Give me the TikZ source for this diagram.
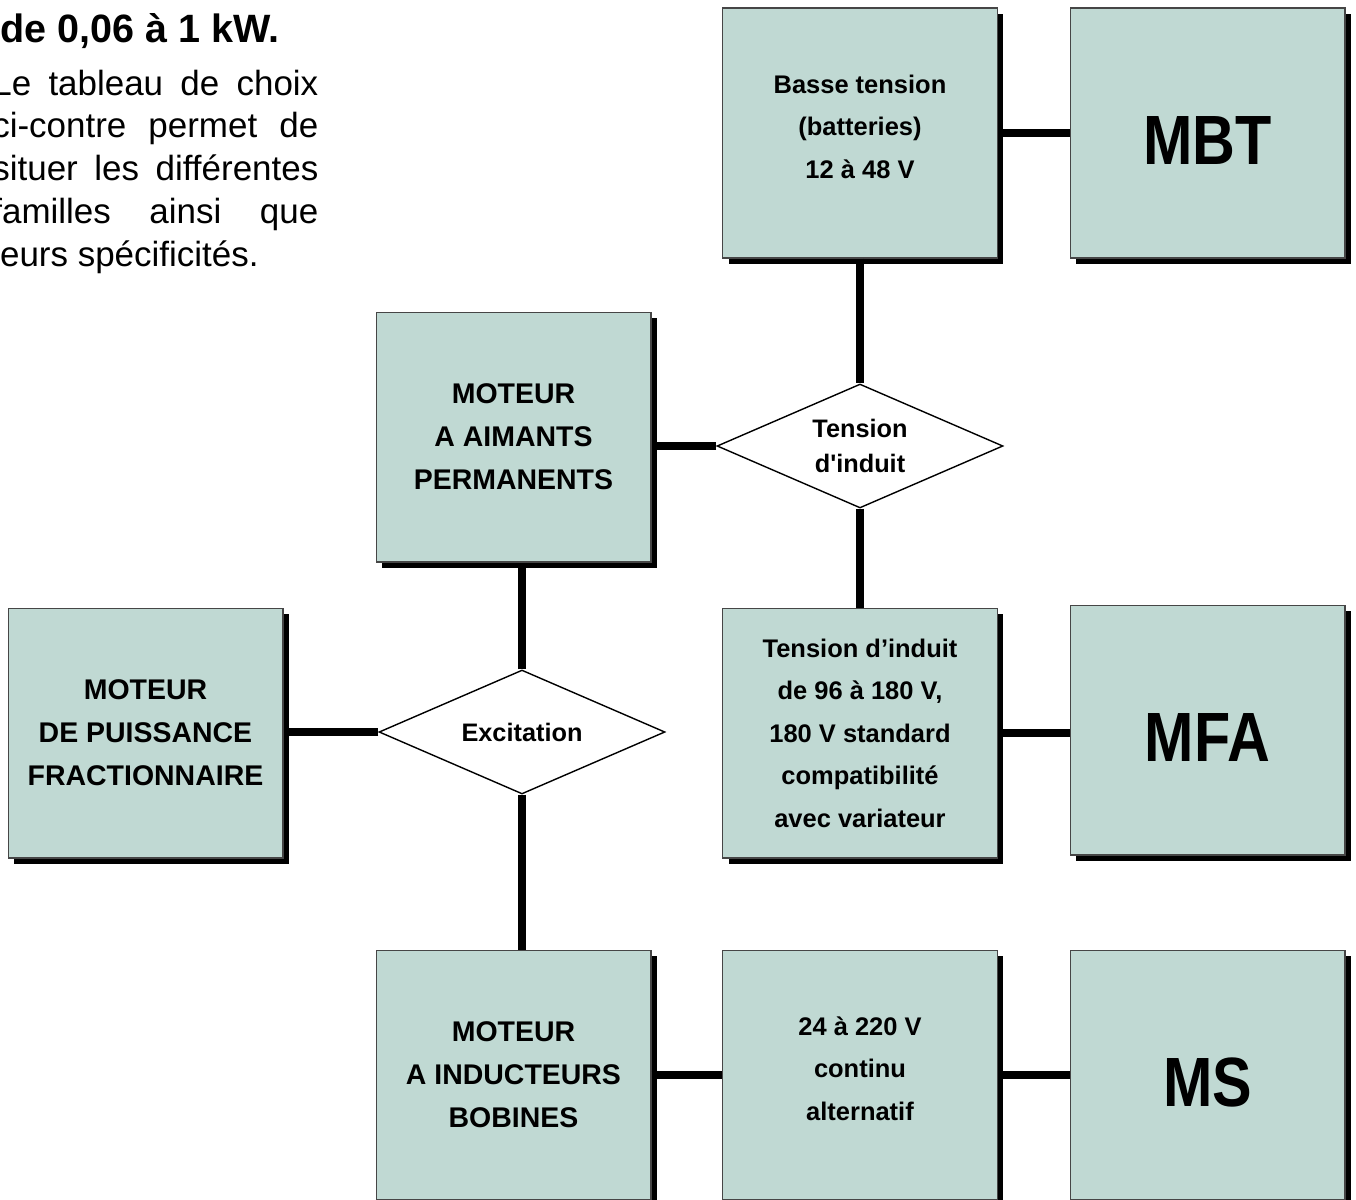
\documentclass[tikz,border=0pt]{standalone}
\usepackage{fontspec}
\setmainfont{Liberation Sans}[Ligatures=TeXOff]
\newfontfamily\narrowfont{Liberation Sans}[FakeStretch=0.85, Ligatures=TeXOff]
\usetikzlibrary{shapes.geometric, shadows}
\definecolor{boxfill}{RGB}{192,217,211}
\definecolor{boxline}{RGB}{70,70,70}

\begin{document}
\begin{tikzpicture}[x=0.02cm, y=-0.02cm,
    box/.style={rectangle, draw=boxline, line width=0.6pt, fill=boxfill,
        minimum width=5.5cm, minimum height=5cm, inner sep=0pt, align=center,
        drop shadow={shadow xshift=0.12cm, shadow yshift=-0.12cm, fill=black, opacity=1}},
    centred/.style={},
    raised/.style={text width=5cm, align=flush center, text height=12pt, text depth=57.4pt},
    test/.style={diamond, draw, fill=white, line width=0.8pt, aspect=2.3,
        minimum width=5.72cm, minimum height=2.48cm, inner sep=0pt, align=center,
        font=\bfseries\fontsize{14.4}{20.4}\selectfont},
    link/.style={line width=4pt}]
    \useasboundingbox (0,0) rectangle (1356,1200);

    % text beside the table
    \node[anchor=base west, inner sep=0pt, font=\bfseries\fontsize{22.5}{27}\selectfont]
        (title) at (0,42) {de 0,06 à 1 kW.};
    \node[anchor=base west, inner sep=0pt, text width=6.52cm, align=justify,
        font=\fontsize{19.9}{24.4}\selectfont] (intro) at (-8,95)
        {Le tableau de choix\linebreak ci-contre permet de\linebreak
         situer les différentes\linebreak familles ainsi que\linebreak
         leurs spécificités.};

    % motor families
    \foreach \n/\x/\y/\t in {
        pm/513.5/437/{MOTEUR\\A AIMANTS\\PERMANENTS},
        fr/145.5/733/{MOTEUR\\DE PUISSANCE\\FRACTIONNAIRE},
        ib/513.5/1075/{MOTEUR\\A INDUCTEURS\\BOBINES}}
        \node[box, font=\bfseries\fontsize{16.2}{24.4}\selectfont] (\n) at (\x,\y) {\t};

    % supply voltages
    \foreach \n/\x/\y/\s/\t in {
        bt/860/133/raised/{Basse tension\\(batteries)\\12 à 48 V},
        ti/860/733/centred/{Tension d’induit\\de 96 à 180 V,\\180 V standard\\compatibilité\\avec variateur},
        ac/860/1075/raised/{24 à 220 V\\continu\\alternatif}}
        \node[box, \s, font=\bfseries\fontsize{14.5}{24.2}\selectfont] (\n) at (\x,\y) {\t};

    % motor types
    \foreach \n/\x/\y/\t in {
        mbt/1207.5/133/MBT, mfa/1207.5/730/MFA, ms/1207.5/1075/MS}
        \node[box, text height=36pt, text depth=0pt,
            font=\narrowfont\bfseries\fontsize{39.7}{44}\selectfont] (\n) at (\x,\y) {\t};

    % choices
    \node[test] (tid) at (860,446) {Tension\\d'induit};
    \node[test] (exc) at (522,732) {Excitation};

    \draw[link] (bt) -- (mbt);
    \draw[link] (bt) -- (tid);
    \draw[link] (tid) -- (ti);
    \draw[link] (ti.east) -- (ti.east -| mfa.west);
    \draw[link] (tid.west) -- (tid.west -| pm.east);
    \draw[link] (exc.north) -- (exc.north |- pm.south);
    \draw[link] (exc.west) -- (exc.west -| fr.east);
    \draw[link] (exc.south) -- (exc.south |- ib.north);
    \draw[link] (ib) -- (ac);
    \draw[link] (ac) -- (ms);
\end{tikzpicture}
\end{document}
